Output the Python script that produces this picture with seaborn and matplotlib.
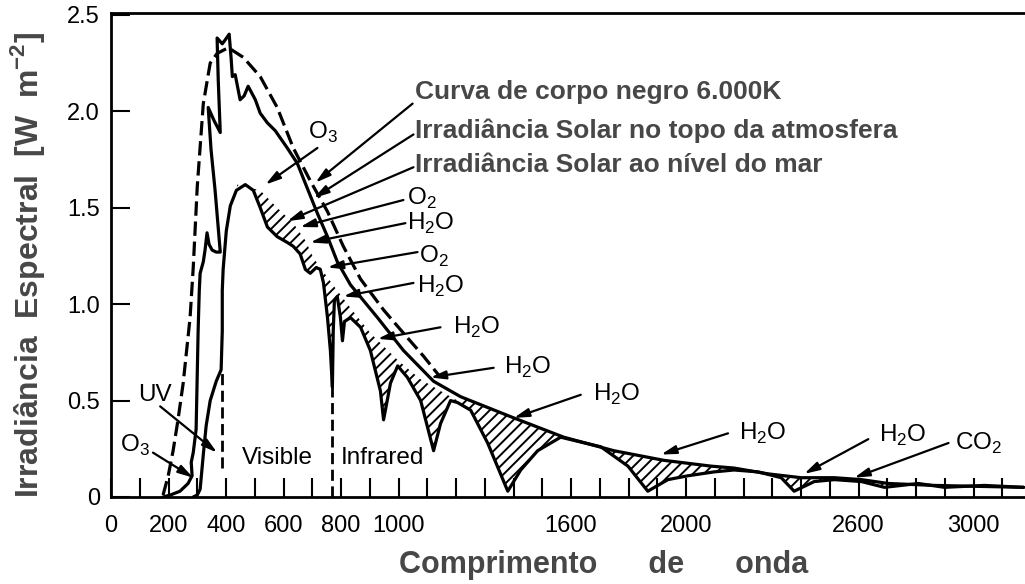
import matplotlib
matplotlib.use('Agg')
import matplotlib.pyplot as plt
import numpy as np
import pandas as pd
import seaborn as sns

sns.set_style('white')
plt.rcParams['font.family'] = ['Liberation Sans', 'DejaVu Sans']
plt.rcParams['mathtext.fontset'] = 'custom'
plt.rcParams['mathtext.rm'] = 'Liberation Sans'
plt.rcParams['mathtext.bf'] = 'Liberation Sans:bold'
plt.rcParams['hatch.linewidth'] = 1.4

# curva de corpo negro 6000K (tracejada)
bb_nm = [181, 199, 216, 233, 251, 275, 286, 300, 321, 345, 369, 408, 460, 519,
         578, 634, 693, 753, 808, 868, 948, 1017, 1087, 1146]
bb_val = [0.01, 0.11, 0.24, 0.40, 0.59, 0.93, 1.19, 1.61, 2.04, 2.25, 2.30, 2.33,
          2.28, 2.18, 2.02, 1.81, 1.64, 1.48, 1.30, 1.13, 0.97, 0.85, 0.73, 0.62]

# irradiancia no topo da atmosfera
toa_nm = [181, 206, 240, 268, 282, 279, 286, 296, 300, 303, 307, 310, 321, 327,
          334, 341, 352, 366, 380, 362, 348, 338, 359, 380, 373, 369, 387, 397,
          411, 418, 422, 432, 449, 463, 477, 502, 519, 544, 571, 613, 648, 683,
          718, 753, 787, 833, 927, 1017, 1122, 1216, 1401, 1575, 1749, 1923,
          2087, 2167, 2285, 2400, 2516, 2610, 2704, 2864, 3174]
toa_val = [0.00, 0.01, 0.03, 0.07, 0.11, 0.18, 0.23, 0.35, 0.64, 0.86, 1.07, 1.16,
           1.22, 1.28, 1.37, 1.31, 1.28, 1.27, 1.27, 1.59, 1.80, 2.02, 1.95, 1.89,
           2.16, 2.38, 2.35, 2.37, 2.40, 2.27, 2.18, 2.19, 2.06, 2.08, 2.13, 2.06,
           1.99, 1.94, 1.90, 1.81, 1.73, 1.60, 1.47, 1.35, 1.22, 1.10, 0.93, 0.76,
           0.60, 0.52, 0.41, 0.31, 0.24, 0.19, 0.16, 0.15, 0.12, 0.10, 0.10, 0.09,
           0.07, 0.06, 0.05]

# irradiancia ao nivel do mar
sea_nm = [286, 300, 310, 321, 331, 345, 366, 383, 387, 387, 390, 401, 415, 436,
          467, 495, 519, 544, 578, 613, 634, 658, 676, 693, 714, 728, 739, 753,
          763, 770, 773, 777, 787, 798, 805, 812, 833, 868, 902, 937, 948, 972,
          997, 1031, 1077, 1122, 1146, 1181, 1205, 1251, 1310, 1380, 1425, 1484,
          1564, 1704, 1798, 1867, 1937, 2007, 2097, 2167, 2251, 2331, 2376, 2446,
          2516, 2610, 2690, 2808, 2899, 3038, 3174]
sea_val = [0.00, 0.01, 0.04, 0.22, 0.37, 0.50, 0.60, 0.66, 0.86, 1.07, 1.18, 1.38,
           1.51, 1.59, 1.62, 1.59, 1.50, 1.40, 1.35, 1.32, 1.30, 1.26, 1.18, 1.16,
           1.19, 1.18, 1.11, 0.93, 0.76, 0.57, 0.86, 1.02, 1.04, 0.93, 0.81, 0.91,
           0.93, 0.88, 0.76, 0.55, 0.40, 0.59, 0.68, 0.62, 0.50, 0.24, 0.38, 0.50,
           0.49, 0.45, 0.28, 0.03, 0.14, 0.24, 0.31, 0.26, 0.16, 0.03, 0.09, 0.11,
           0.13, 0.14, 0.13, 0.10, 0.03, 0.08, 0.09, 0.08, 0.05, 0.07, 0.05, 0.06,
           0.05]

# limite superior das bandas de absorcao (hachurado)
band_nm = [439, 519, 578, 634, 676, 704, 728, 787, 833, 902, 997, 1077, 1146, 1205]
band_val = [1.62, 1.59, 1.50, 1.42, 1.33, 1.24, 1.19, 1.07, 0.98, 0.85, 0.71,
            0.61, 0.55, 0.50]

# limites visivel / infravermelho
bound_nm = [387, 770]
bound_low = [0.15, 0.0]
bound_high = [0.66, 0.57]

xtick_labels = {0: '0', 200: '200', 400: '400', 600: '600', 800: '800',
                1000: '1000', 1600: '1600', 2000: '2000', 2600: '2600', 3000: '3000'}
ytick_vals = [0, 0.5, 1.0, 1.5, 2.0, 2.5]
ytick_labels = ['0', '0.5', '1.0', '1.5', '2.0', '2.5']

fig = plt.figure(figsize=(10.25, 5.84), dpi=100)
ax = fig.add_axes([0.1083, 0.149, 0.8917, 0.8288])

# hachurado
poly_x = band_nm + [n for n in toa_nm if n > 1205]
poly_y = band_val + [v for n, v in zip(toa_nm, toa_val) if n > 1205]
sea_part = [(n, v) for n, v in zip(sea_nm, sea_val) if n >= 436]
poly_x += [p[0] for p in sea_part[::-1]]
poly_y += [p[1] for p in sea_part[::-1]]
ax.fill(poly_x, poly_y, facecolor='none', edgecolor='black', hatch='///', lw=0)

sns.lineplot(x=bb_nm, y=bb_val, sort=False, estimator=None, ax=ax, color='black',
             lw=2.3, linestyle=(0, (4.5, 1.8)))
sns.lineplot(x=toa_nm, y=toa_val, sort=False, estimator=None, ax=ax, color='black', lw=2.3)
sns.lineplot(x=sea_nm, y=sea_val, sort=False, estimator=None, ax=ax, color='black', lw=2.3)

ax.vlines(bound_nm, bound_low, bound_high, colors='black', lw=2, linestyles=(0, (4, 2)))

ax.set_xlim(0, 3179)
ax.set_ylim(0, 2.51)
ax.set_xticks(list(range(0, 3200, 100)))
ax.set_xticklabels([xtick_labels.get(t, '') for t in range(0, 3200, 100)])
ax.set_yticks(ytick_vals)
ax.set_yticklabels(ytick_labels)
ax.tick_params(bottom=True, left=True, direction='in', length=14, width=1.5,
               labelsize=17, colors='black')
ax.tick_params(axis='x', pad=13)
ax.tick_params(axis='y', pad=8)
for s in ['left', 'top', 'bottom']:
    ax.spines[s].set_linewidth(2)
    ax.spines[s].set_color('black')
ax.spines['right'].set_visible(False)

gray = '#474747'
ax.set_ylabel('Irradiância  Espectral  [W  m$^{\\mathbf{-2}}$]', fontsize=23,
              fontweight='bold', color=gray)
ax.yaxis.set_label_coords(-0.070, 0.48)
ax.set_xlabel('Comprimento      de      onda', fontsize=22, fontweight='bold', color=gray)
ax.xaxis.set_label_coords(0.539, -0.1095)

# textos principais
big_texts = ['Curva de corpo negro 6.000K',
             'Irradiância Solar no topo da atmosfera',
             'Irradiância Solar ao nível do mar']
for txt, y in zip(big_texts, [2.10, 1.90, 1.72]):
    ax.text(1059, y, txt, fontsize=19, fontweight='bold', color=gray,
            ha='left', va='center')

arrow_kw = dict(arrowstyle='-|>,head_length=0.9,head_width=0.25', color='black',
                lw=1.6, shrinkA=0, shrinkB=0)
arrows = [((1049, 2.04), (711, 1.63)), ((1052, 1.88), (705, 1.55)),
          ((1052, 1.71), (613, 1.43)), ((718, 1.81), (537, 1.62)),
          ((1017, 1.54), (658, 1.40)), ((1024, 1.42), (693, 1.32)),
          ((1066, 1.27), (753, 1.19)), ((1052, 1.11), (808, 1.04)),
          ((1146, 0.88), (927, 0.82)), ((1331, 0.67), (1111, 0.62)),
          ((1634, 0.53), (1401, 0.41)), ((2146, 0.33), (1913, 0.22)),
          ((2634, 0.30), (2411, 0.12)), ((2913, 0.28), (2585, 0.10)),
          ((171, 0.47), (369, 0.23)), ((146, 0.23), (286, 0.10))]
for tail, head in arrows:
    ax.annotate('', xy=head, xytext=tail, arrowprops=arrow_kw)

sub2 = '$_{\\mathregular{2}}$'
sub3 = '$_{\\mathregular{3}}$'
labels = [('O' + sub3, 686, 1.89), ('O' + sub2, 1031, 1.55), ('H' + sub2 + 'O', 1031, 1.42),
          ('O' + sub2, 1070, 1.25), ('H' + sub2 + 'O', 1066, 1.09),
          ('H' + sub2 + 'O', 1188, 0.88), ('H' + sub2 + 'O', 1366, 0.67),
          ('H' + sub2 + 'O', 1676, 0.53), ('H' + sub2 + 'O', 2185, 0.33),
          ('H' + sub2 + 'O', 2672, 0.32), ('CO' + sub2, 2934, 0.28),
          ('UV', 94, 0.53), ('O' + sub3, 31, 0.27),
          ('Visible', 456, 0.20), ('Infrared', 798, 0.20)]
for txt, x, y in labels:
    ax.text(x, y, txt, fontsize=17.5, ha='left', va='center', color='black')

fig.savefig('out.png', dpi=100)
